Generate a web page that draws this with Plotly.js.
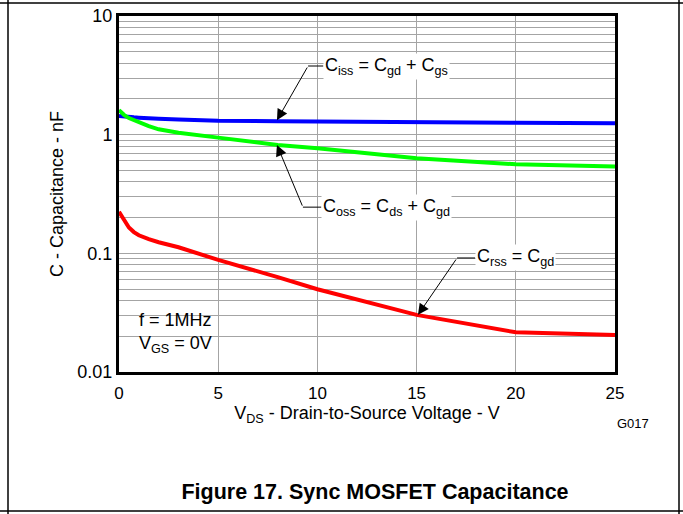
<!DOCTYPE html>
<html><head><meta charset="utf-8">
<script src="https://cdn.plot.ly/plotly-3.0.1.min.js"></script>
<style>html,body{margin:0;padding:0;background:#fff}</style>
</head><body><div id="chart" style="width:683px;height:514px"></div>
<script>
// ---- data ----
const vds  = [0, 0.25, 0.5, 0.75, 1, 1.5, 2, 3, 5, 8, 10, 15, 20, 25];
const ciss = [1.44, 1.42, 1.41, 1.40, 1.39, 1.37, 1.36, 1.34, 1.31, 1.30, 1.29, 1.28, 1.26, 1.25];
const coss = [1.61, 1.47, 1.38, 1.32, 1.27, 1.18, 1.11, 1.04, 0.944, 0.82, 0.768, 0.632, 0.563, 0.538];
const crss = [0.224, 0.193, 0.165, 0.151, 0.142, 0.1315, 0.124, 0.1125, 0.088, 0.063, 0.0498, 0.0303, 0.0216, 0.0205];
const xTicks = [0, 5, 10, 15, 20, 25];
const yDecades = [0.01, 0.1, 1, 10];
const yDecadeLabels = ['0.01', '0.1', '1', '10'];
const yMinorMults = [2, 3, 4, 5, 6, 7, 8, 9];

const yMinorVals = [];
yDecades.slice(0, -1).forEach(d => yMinorMults.forEach(m => yMinorVals.push(d * m)));

const FONT = 'Liberation Sans, Arial, Helvetica, sans-serif';
const GRID = '#a4a4a4';
const traces = [
  {x: vds, y: ciss, mode: 'lines', line: {color: '#0000ff', width: 4}, name: 'Ciss'},
  {x: vds, y: coss, mode: 'lines', line: {color: '#00ff00', width: 4}, name: 'Coss'},
  {x: vds, y: crss, mode: 'lines', line: {color: '#ff0000', width: 4}, name: 'Crss'}
];

// paper-coordinate helpers for the frame (plot area 119..615 x 16..372 px)
const px = v => (v - 119) / 496;
const py = v => (372 - v) / 356;
const L = Math.log10;

const annotations = [];
const shapes = [];
function leader(tipX, tipY, elbX, elbY, txtX, text) {
  annotations.push(
    {x: tipX, y: L(tipY), ax: elbX, ay: L(elbY), axref: 'x', ayref: 'y', xref: 'x', yref: 'y',
     text: '', showarrow: true, arrowhead: 2, arrowsize: 2.2, arrowwidth: 1, arrowcolor: '#000'},
    {x: txtX, y: L(elbY), xref: 'x', yref: 'y', xanchor: 'left', yanchor: 'middle',
     text: text, showarrow: false, bgcolor: '#ffffff', borderpad: 1,
     font: {family: FONT, size: 18, color: '#000'}}
  );
  shapes.push({type: 'line', xref: 'x', yref: 'y', x0: elbX, x1: txtX, y0: elbY, y1: elbY,
               line: {color: '#000', width: 1}, layer: 'above'});
}

leader(7.96, 1.32, 9.53, 3.79, 10.3, 'C<sub>iss</sub> = C<sub>gd</sub> + C<sub>gs</sub>');
leader(7.96, 0.82, 9.27, 0.245, 10.2, 'C<sub>oss</sub> = C<sub>ds</sub> + C<sub>gd</sub>');
leader(15.07, 0.0303, 17.04, 0.0914, 17.95, 'C<sub>rss</sub> = C<sub>gd</sub>');

annotations.push(
  {xref: 'paper', yref: 'paper', x: px(137), y: py(333), xanchor: 'left', yanchor: 'middle',
   align: 'left', showarrow: false, text: 'f = 1MHz<br>V<sub>GS</sub> = 0V',
   font: {family: FONT, size: 18, color: '#000'}},
  {xref: 'paper', yref: 'paper', x: px(633), y: py(423), xanchor: 'center', yanchor: 'middle',
   showarrow: false, text: 'G017', font: {family: FONT, size: 13, color: '#000'}}
);

const frame = {color: '#000', width: 1.5};
shapes.push(
  {type: 'rect', xref: 'paper', yref: 'paper', x0: px(121), x1: px(218), y0: py(360), y1: py(311),
   fillcolor: '#ffffff', line: {width: 0}, layer: 'between'},
  {type: 'line', xref: 'paper', yref: 'paper', x0: px(8), x1: px(8), y0: py(0), y1: py(514), line: frame},
  {type: 'line', xref: 'paper', yref: 'paper', x0: px(0), x1: px(683), y0: py(3), y1: py(3), line: frame},
  {type: 'line', xref: 'paper', yref: 'paper', x0: px(679), x1: px(679), y0: py(0), y1: py(514), line: frame},
  {type: 'line', xref: 'paper', yref: 'paper', x0: px(0), x1: px(683), y0: py(511), y1: py(511), line: frame}
);

const layout = {
  width: 683, height: 514,
  margin: {l: 119, r: 68, t: 16, b: 142, pad: 0},
  paper_bgcolor: '#fff', plot_bgcolor: '#fff',
  showlegend: false,
  font: {family: FONT, color: '#000'},
  title: {text: '<b>Figure 17. Sync MOSFET Capacitance</b>', xref: 'container', yref: 'container',
          x: 375 / 683, y: 1 - 491 / 514, xanchor: 'center', yanchor: 'middle',
          font: {family: FONT, size: 21.5, color: '#000'}},
  xaxis: {
    range: [0, 25], tickvals: xTicks, ticktext: xTicks.map(String),
    showgrid: true, gridcolor: GRID, gridwidth: 1, zeroline: false,
    showline: true, linecolor: '#000', linewidth: 3, mirror: true, ticks: '',
    ticklabelstandoff: 4,
    tickfont: {family: FONT, size: 17, color: '#000'},
    title: {text: 'V<sub>DS</sub> - Drain-to-Source Voltage - V', standoff: 4,
            font: {family: FONT, size: 18, color: '#000'}}
  },
  yaxis: {
    type: 'log', range: [-2, 1], tickvals: yDecades, ticktext: yDecadeLabels,
    showgrid: true, gridcolor: GRID, gridwidth: 1, zeroline: false,
    showline: true, linecolor: '#000', linewidth: 3, mirror: true, ticks: '',
    minor: {tickvals: yMinorVals, showgrid: true, gridcolor: GRID, gridwidth: 1, ticks: ''},
    ticklabelstandoff: 0,
    tickfont: {family: FONT, size: 18, color: '#000'},
    title: {text: 'C - Capacitance - nF', standoff: 10,
            font: {family: FONT, size: 18, color: '#000'}}
  },
  annotations: annotations,
  shapes: shapes
};

Plotly.newPlot('chart', traces, layout, {displayModeBar: false, staticPlot: true});
</script>
</body></html>
